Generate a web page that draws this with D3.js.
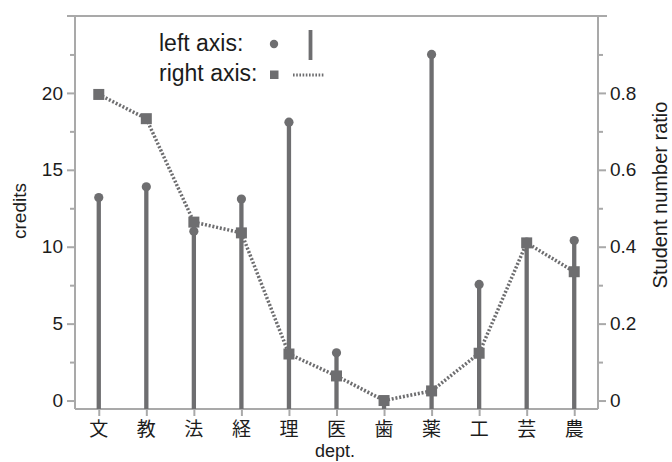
<!DOCTYPE html>
<meta charset="utf-8">
<script src="https://d3js.org/d3.v7.min.js"></script>
<style>
  body { margin: 0; background: #fff; }
  text { font-family: "Liberation Sans", Arial, sans-serif; fill: #1c1c1c; }
  .cjk { font-family: "Noto Sans CJK JP", sans-serif; }
</style>
<div id="my_dataviz"></div>
<script>

// data
var depts = ["文", "教", "法", "経", "理", "医", "歯", "薬", "工", "芸", "農"];
var credits = [13.2, 13.9, 11.0, 13.1, 18.1, 3.1, 0, 22.5, 7.55, 10.3, 10.4];
var ratio = [0.796, 0.733, 0.464, 0.436, 0.121, 0.064, 0, 0.025, 0.123, 0.41, 0.335];
var leftTicks = [0, 5, 10, 15, 20];
var leftMinor = [2.5, 7.5, 12.5, 17.5, 22.5];
var rightTicks = [0, 0.2, 0.4, 0.6, 0.8];
var rightMinor = [0.1, 0.3, 0.5, 0.7, 0.9];

// plot box (note: "top" is a reserved window property, so use plot* names)
var W = 672, H = 462;
var plotL = 75, plotR = 598, plotT = 16, plotB = 409;
var markColor = "#6e6e70", axisColor = "#a9a9a9";

var svg = d3.select("#my_dataviz")
  .append("svg")
    .attr("width", W)
    .attr("height", H);

// scales
var x = d3.scalePoint()
  .domain(depts)
  .range([plotL, plotR])
  .padding(0.5);

var yL = d3.scaleLinear()
  .domain([-0.55, 25])
  .range([plotB, plotT]);

var yR = d3.scaleLinear()
  .domain([-0.022, 1])
  .range([plotB, plotT]);

// frame: top line is a bit wider than the plot
svg.append("line")
  .attr("x1", plotL - 8).attr("x2", plotR + 9)
  .attr("y1", plotT).attr("y2", plotT)
  .attr("stroke", axisColor).attr("stroke-width", 2);

// left axis (major + minor ticks)
var gL = svg.append("g")
  .attr("transform", "translate(" + plotL + ",0)")
  .call(d3.axisLeft(yL).tickValues(leftTicks).tickSize(8).tickPadding(4).tickFormat(d3.format("d")));
var gLm = svg.append("g")
  .attr("transform", "translate(" + plotL + ",0)")
  .call(d3.axisLeft(yL).tickValues(leftMinor).tickSize(5).tickFormat(""));

// right axis
var gR = svg.append("g")
  .attr("transform", "translate(" + plotR + ",0)")
  .call(d3.axisRight(yR).tickValues(rightTicks).tickSize(8).tickPadding(4)
    .tickFormat(function(d) { return d === 0 ? "0" : d3.format(".1f")(d); }));
var gRm = svg.append("g")
  .attr("transform", "translate(" + plotR + ",0)")
  .call(d3.axisRight(yR).tickValues(rightMinor).tickSize(5).tickFormat(""));

// bottom axis
var gB = svg.append("g")
  .attr("transform", "translate(0," + plotB + ")")
  .call(d3.axisBottom(x).tickSize(7).tickFormat(""));

[gL, gLm, gR, gRm, gB].forEach(function(g) {
  g.selectAll(".domain, line").attr("stroke", axisColor).attr("stroke-width", 2);
  g.selectAll("text").attr("fill", "#1c1c1c").style("font-size", "19px")
    .style("font-family", "'Liberation Sans', Arial, sans-serif");
});
gLm.select(".domain").remove();
gRm.select(".domain").remove();
gL.select(".domain").attr("d", "M0," + plotT + "V" + plotB);
gR.select(".domain").attr("d", "M0," + plotT + "V" + plotB);
gB.select(".domain").attr("d", "M" + plotL + ",0H" + plotR);

// category labels
svg.append("g")
  .selectAll("text")
  .data(depts)
  .enter()
  .append("text")
    .attr("class", "cjk")
    .attr("x", function(d) { return x(d); })
    .attr("y", 436)
    .attr("text-anchor", "middle")
    .style("font-size", "19px")
    .text(function(d) { return d; });

// axis titles
svg.append("text")
  .attr("text-anchor", "middle")
  .attr("x", 335).attr("y", 457)
  .style("font-size", "18px")
  .text("dept.");

svg.append("text")
  .attr("text-anchor", "middle")
  .attr("transform", "translate(26,211) rotate(-90)")
  .style("font-size", "19px")
  .text("credits");

svg.append("text")
  .attr("text-anchor", "middle")
  .attr("transform", "translate(667,195) rotate(-90)")
  .style("font-size", "20px")
  .text("Student number ratio");

// stems (left axis)
svg.append("g")
  .selectAll("line")
  .data(depts)
  .enter()
  .append("line")
    .attr("x1", function(d) { return x(d); })
    .attr("x2", function(d) { return x(d); })
    .attr("y1", plotB)
    .attr("y2", function(d, i) { return yL(credits[i]); })
    .attr("stroke", markColor)
    .attr("stroke-width", 4.3);

svg.append("g")
  .selectAll("circle")
  .data(depts)
  .enter()
  .append("circle")
    .attr("cx", function(d) { return x(d); })
    .attr("cy", function(d, i) { return yL(credits[i]); })
    .attr("r", 4.6)
    .attr("fill", markColor);

// dotted line (right axis)
var line = d3.line()
  .x(function(d) { return x(d); })
  .y(function(d, i) { return yR(ratio[i]); });

svg.append("path")
  .datum(depts)
  .attr("d", line)
  .attr("fill", "none")
  .attr("stroke", markColor)
  .attr("stroke-width", 3.5)
  .attr("stroke-dasharray", "2,1.8");

var sq = 11;
svg.append("g")
  .selectAll("rect")
  .data(depts)
  .enter()
  .append("rect")
    .attr("x", function(d) { return x(d) - sq / 2; })
    .attr("y", function(d, i) { return yR(ratio[i]) - sq / 2; })
    .attr("width", sq)
    .attr("height", sq)
    .attr("fill", markColor);

// legend
svg.append("text")
  .attr("x", 159).attr("y", 51)
  .style("font-size", "23px")
  .text("left axis:");
svg.append("circle")
  .attr("cx", 274).attr("cy", 44).attr("r", 4.2)
  .attr("fill", markColor);
svg.append("line")
  .attr("x1", 310.5).attr("x2", 310.5)
  .attr("y1", 30).attr("y2", 60)
  .attr("stroke", markColor).attr("stroke-width", 3.8);

svg.append("text")
  .attr("x", 159).attr("y", 81)
  .style("font-size", "23px")
  .text("right axis:");
svg.append("rect")
  .attr("x", 270).attr("y", 70.5).attr("width", 8.5).attr("height", 8.5)
  .attr("fill", markColor);
svg.append("line")
  .attr("x1", 293).attr("x2", 324)
  .attr("y1", 75).attr("y2", 75)
  .attr("stroke", markColor).attr("stroke-width", 3)
  .attr("stroke-dasharray", "1.6,1.6");

</script>
